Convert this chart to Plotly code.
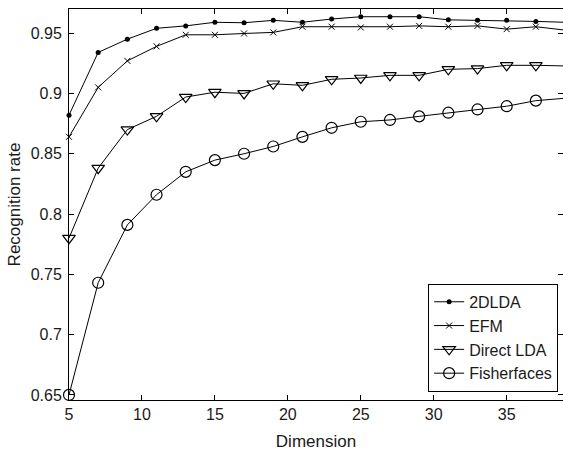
import plotly.graph_objects as go

dimension = [5, 7, 9, 11, 13, 15, 17, 19, 21, 23, 25, 27, 29, 31, 33, 35, 37, 39]
rate_2dlda = [0.882, 0.934, 0.945, 0.954, 0.956, 0.959, 0.9586, 0.9606, 0.959, 0.9617,
              0.9636, 0.9636, 0.9636, 0.961, 0.9606, 0.9606, 0.9597, 0.959]
rate_efm = [0.864, 0.905, 0.927, 0.939, 0.9486, 0.9486, 0.9497, 0.9506, 0.9553, 0.9553,
            0.9547, 0.9553, 0.956, 0.9553, 0.956, 0.9533, 0.9553, 0.9525]
rate_dlda = [0.780, 0.838, 0.870, 0.881, 0.897, 0.901, 0.900, 0.908, 0.9067, 0.9117,
             0.9128, 0.915, 0.915, 0.920, 0.9206, 0.9233, 0.9233, 0.9228]
rate_fisher = [0.650, 0.743, 0.791, 0.816, 0.835, 0.8447, 0.850, 0.856, 0.864, 0.8715,
               0.8765, 0.878, 0.881, 0.884, 0.8867, 0.8894, 0.894, 0.896]

series_names = ["2DLDA", "EFM", "Direct LDA", "Fisherfaces"]
y_ticks = [0.65, 0.7, 0.75, 0.8, 0.85, 0.9, 0.95]
y_tick_labels = ["0.65", "0.7", "0.75", "0.8", "0.85", "0.9", "0.95"]
x_ticks = [5, 10, 15, 20, 25, 30, 35]

FONT = "Liberation Sans, Arial, sans-serif"

styles = [
    dict(symbol="circle", size=5, color="black", line=dict(width=0)),
    dict(symbol="x-thin", size=6, color="black", line=dict(width=1, color="black")),
    dict(symbol="triangle-down-open", size=11, color="black", line=dict(width=1.2, color="black")),
    dict(symbol="circle-open", size=11, color="black", line=dict(width=1.2, color="black")),
]

fig = go.Figure()
for name, ys, mk in zip(series_names, [rate_2dlda, rate_efm, rate_dlda, rate_fisher], styles):
    fig.add_trace(go.Scatter(
        x=dimension, y=ys, name=name, mode="lines+markers",
        line=dict(color="black", width=1), marker=mk, cliponaxis=False,
    ))

fig.update_layout(
    width=563, height=453,
    margin=dict(l=69, r=0, t=9, b=53, autoexpand=False),
    paper_bgcolor="white", plot_bgcolor="white",
    font=dict(family=FONT, size=16, color="#1a1a1a"),
    showlegend=True,
    legend=dict(
        x=0.727, y=0.297, xanchor="left", yanchor="top",
        bordercolor="black", borderwidth=1, bgcolor="white",
        font=dict(size=16), itemwidth=30,
    ),
    xaxis=dict(
        range=[5, 38.86], tickvals=x_ticks, ticks="inside", ticklen=5,
        showline=True, linecolor="black", linewidth=1, mirror="ticks",
        showgrid=False, zeroline=False, tickcolor="black", automargin=False,
        title=dict(text="Dimension", font=dict(size=17), standoff=12),
    ),
    yaxis=dict(
        range=[0.6458, 0.97], tickvals=y_ticks, ticktext=y_tick_labels,
        ticks="inside", ticklen=5, ticklabelstandoff=3,
        showline=True, linecolor="black", linewidth=1, mirror="ticks",
        showgrid=False, zeroline=False, tickcolor="black", automargin=False,
        title=dict(text="Recognition rate", font=dict(size=17), standoff=5),
    ),
)

fig.write_html("out.html", config={"displayModeBar": False},
               post_script="document.body.style.margin='0';")
